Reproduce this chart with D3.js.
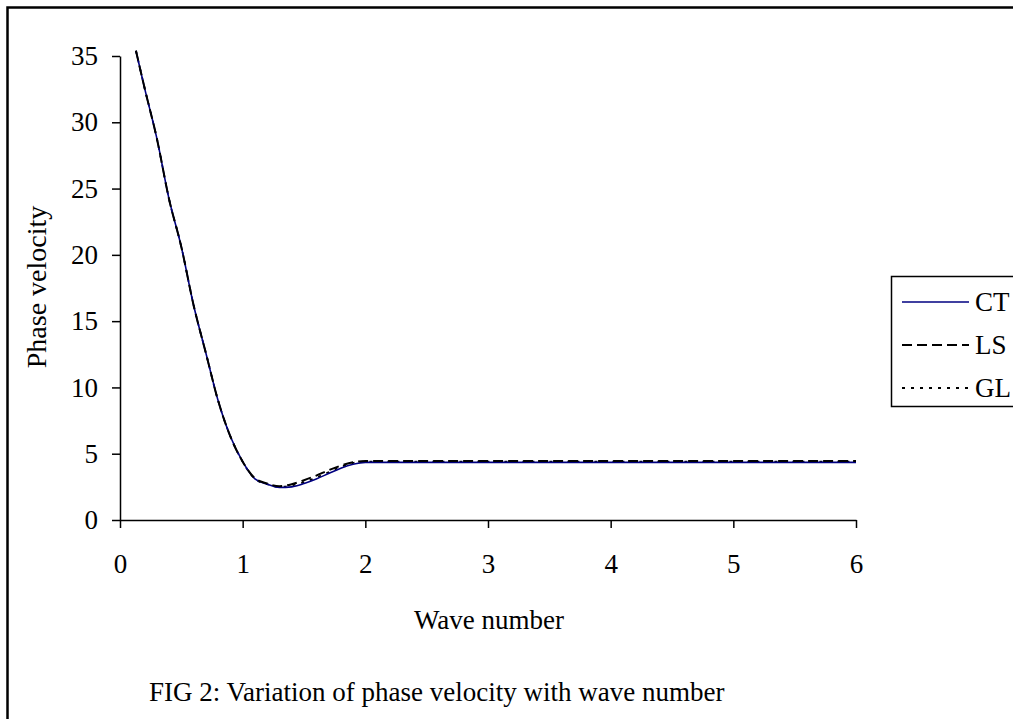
<!DOCTYPE html>
<html>
<head>
<script src="https://d3js.org/d3.v7.min.js"></script>
<title>Phase velocity</title>
<style>
  body { margin: 0; background: #fff; }
  text { font-family: "Liberation Serif", "Times New Roman", serif; fill: #000; }
</style>
</head>
<body>
<div id="chart"></div>
<script>
// wave number samples
let waveNumber = [0.13, 0.2, 0.3, 0.4, 0.5, 0.6, 0.7, 0.8, 0.9, 1.0, 1.1, 1.2, 1.3, 1.4, 1.5, 1.6, 1.7, 1.8, 1.9, 2.0, 2.5, 3, 3.5, 4, 4.5, 5, 5.5, 6];
let ctValues = [35.4, 32.6, 28.8, 24.2, 20.6, 16.2, 12.6, 9.0, 6.3, 4.4, 3.1, 2.7, 2.45, 2.5, 2.75, 3.1, 3.5, 3.9, 4.2, 4.35, 4.35, 4.35, 4.35, 4.35, 4.35, 4.35, 4.35, 4.35];
let lsValues = [35.4, 32.6, 28.8, 24.2, 20.6, 16.2, 12.6, 9.0, 6.3, 4.4, 3.15, 2.75, 2.55, 2.7, 3.0, 3.35, 3.75, 4.1, 4.35, 4.45, 4.45, 4.45, 4.45, 4.45, 4.45, 4.45, 4.45, 4.45];
let glValues = [35.4, 32.6, 28.8, 24.2, 20.6, 16.2, 12.6, 9.0, 6.3, 4.4, 3.1, 2.7, 2.5, 2.6, 2.85, 3.2, 3.6, 4.0, 4.3, 4.4, 4.4, 4.4, 4.4, 4.4, 4.4, 4.4, 4.4, 4.4];
let xTicks = [0, 1, 2, 3, 4, 5, 6];
let yTicks = [0, 5, 10, 15, 20, 25, 30, 35];
let seriesNames = ["CT", "LS", "GL"];

let width = 1013, height = 719;
let svg = d3.select("#chart").append("svg")
    .attr("width", width)
    .attr("height", height);

// outer frame (runs off the right and bottom)
svg.append("rect")
    .attr("x", 7.5).attr("y", 7.5)
    .attr("width", 1100).attr("height", 800)
    .attr("fill", "none").attr("stroke", "#000").attr("stroke-width", 2.5);

let x = d3.scaleLinear().domain([0, 6]).range([120, 856]);
let y = d3.scaleLinear().domain([0, 35]).range([520, 56]);

let xAxis = svg.append("g")
    .attr("transform", "translate(0,520)")
    .call(d3.axisBottom(x).tickValues(xTicks).tickFormat(d3.format("d"))
        .tickSize(8).tickPadding(26).tickSizeOuter(0));
let yAxis = svg.append("g")
    .attr("transform", "translate(120,0)")
    .call(d3.axisLeft(y).tickValues(yTicks).tickFormat(d3.format("d"))
        .tickSize(8).tickPadding(14).tickSizeOuter(0));

[xAxis, yAxis].forEach(g => {
    g.selectAll("path, line").attr("stroke", "#000").attr("stroke-width", 1.5);
    g.selectAll("text").style("font-size", "27px").style("font-family", "Liberation Serif");
});

svg.append("text")
    .attr("x", 489).attr("y", 629)
    .attr("text-anchor", "middle")
    .style("font-size", "27px")
    .text("Wave number");

svg.append("text")
    .attr("transform", "translate(46,287) rotate(-90)")
    .attr("text-anchor", "middle")
    .style("font-size", "28px")
    .text("Phase velocity");

svg.append("text")
    .attr("x", 149).attr("y", 701)
    .style("font-size", "27px")
    .text("FIG 2: Variation of phase velocity with wave number");

let styles = {
    CT: { color: "#000080", dash: null, width: 1.6 },
    LS: { color: "#000", dash: "10,5", width: 2 },
    GL: { color: "#000", dash: "3,6", width: 1.8 }
};
let seriesValues = { CT: ctValues, LS: lsValues, GL: glValues };

let line = d3.line()
    .x(d => x(d[0]))
    .y(d => y(d[1]))
    .curve(d3.curveMonotoneX);

// draw GL first, then CT, LS on top
["GL", "CT", "LS"].forEach(name => {
    let pts = waveNumber.map((w, i) => [w, seriesValues[name][i]]);
    svg.append("path")
        .datum(pts)
        .attr("d", line)
        .attr("fill", "none")
        .attr("stroke", styles[name].color)
        .attr("stroke-width", styles[name].width)
        .attr("stroke-dasharray", styles[name].dash);
});

// legend
let legend = svg.append("g");
legend.append("rect")
    .attr("x", 891.5).attr("y", 276.5)
    .attr("width", 200).attr("height", 130)
    .attr("fill", "#fff").attr("stroke", "#000").attr("stroke-width", 1.5);

seriesNames.forEach((name, i) => {
    let ly = 302 + i * 43;
    legend.append("line")
        .attr("x1", 902).attr("x2", 969)
        .attr("y1", ly).attr("y2", ly)
        .attr("stroke", styles[name].color)
        .attr("stroke-width", styles[name].width)
        .attr("stroke-dasharray", styles[name].dash);
    legend.append("text")
        .attr("x", 975).attr("y", ly + 9)
        .style("font-size", "27px")
        .text(name);
});
</script>
</body>
</html>
